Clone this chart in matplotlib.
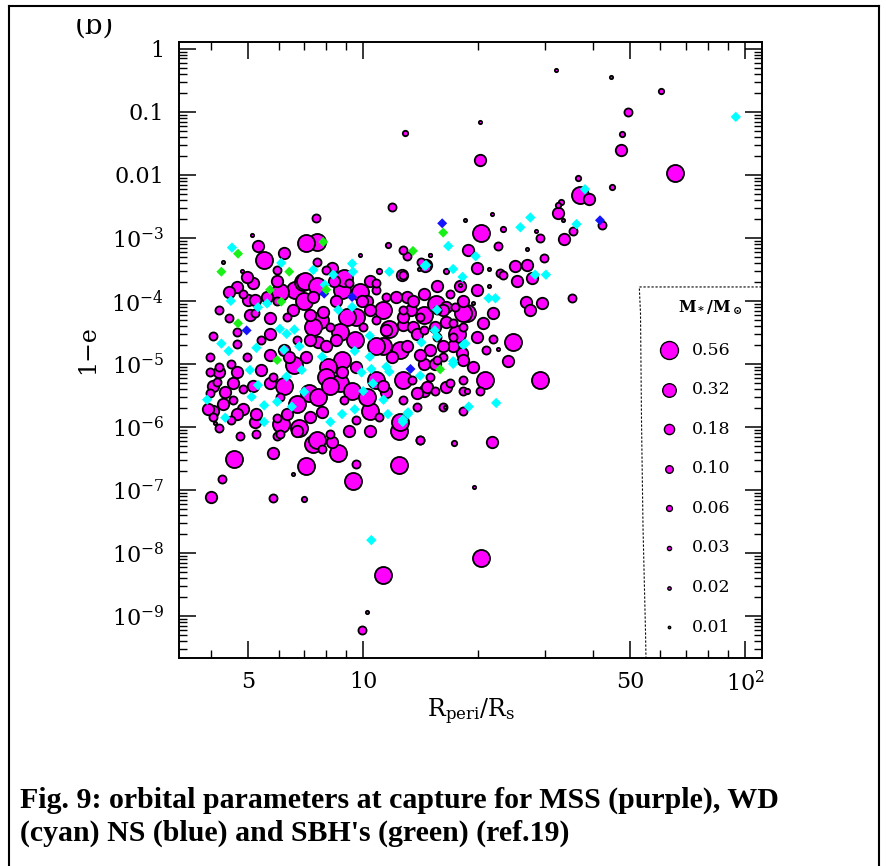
import numpy as np
import matplotlib
matplotlib.use('Agg')
import matplotlib.pyplot as plt
from matplotlib.lines import Line2D
from matplotlib.patches import Rectangle
from matplotlib.ticker import FixedLocator, FixedFormatter, NullFormatter, LogLocator

plt.rcParams['font.family'] = ['DejaVu Serif']
plt.rcParams['mathtext.fontset'] = 'dejavuserif'

# ---------------- data (R_peri/R_s, 1-e) ----------------
# MSS, grouped by stellar mass (M*/Msun)
mss_L_mass = 0.40
mss_L_r = [37.0, 65.5, 20.4, 29.0, 20.9, 24.7, 18.7, 4.6, 7.1, 7.4, 8.6, 9.4, 12.4, 11.3, 20.3, 6.1,
           6.8, 12.4, 7.55, 7.1, 5.5, 6.63, 6.97, 8.8, 9.6, 9.05, 7.7, 8.8, 8.1, 6.6, 7.2, 7.6,
           8.0, 8.7, 9.35, 10.4, 12.5, 7.55, 7.04, 7.55, 11.7, 14.4, 18.3, 17.6, 11.3, 12.7, 10.8, 15.5,
           7.4, 8.7, 9.5, 10.8, 7.0, 6.05, 8.9, 9.8, 11.3, 12.5, 10.2, 8.2, 6.2, 6.7]
mss_L_e = [4.8e-3, 1.08e-2, 1.18e-3, 5.5e-6, 5.5e-6, 2.24e-5, 6.3e-5, 3.1e-7, 2.4e-7, 5.4e-7, 3.8e-7,
           1.4e-7, 2.5e-7, 4.4e-9, 8.3e-9, 1.1e-6, 9.5e-7, 8.6e-7, 8.6e-4, 8.3e-4, 4.5e-4, 1.5e-4,
           2.0e-4, 1.5e-4, 5.6e-5, 5.6e-5, 5.0e-5, 1.15e-5, 9.0e-6, 9.5e-6, 3.4e-6, 3.0e-6, 6.3e-6,
           4.9e-6, 3.7e-6, 1.8e-6, 1.2e-6, 6.2e-7, 2.1e-4, 1.7e-4, 3.6e-5, 5.9e-5, 6.3e-5, 3.0e-5,
           1.9e-5, 5.5e-6, 5.5e-6, 9.0e-5,
           3.9e-5, 3.2e-5, 2.4e-5, 1.9e-5, 1.0e-4, 1.4e-4, 2.3e-4, 1.4e-4, 7.2e-5, 1.65e-5,
           3.0e-6, 4.4e-6, 4.4e-6, 2.3e-6]

mss_M_mass = 0.18
mss_M_r = [47.4, 39.1, 20.2, 32.4, 33.6, 18.8, 14.6, 19.9, 25.0, 26.8,
           25.3, 27.7, 19.9, 15.6, 26.7, 27.4, 29.4, 24.0, 21.9, 20.6,
           18.1, 14.4, 21.8, 4.0, 5.8, 8.27, 5.2, 5.3, 6.2, 8.3,
           12.6, 14.5, 4.66, 4.44, 5.0, 5.2, 5.6, 8.5, 10.2, 7.25,
           7.86, 6.55, 5.05, 5.7, 5.7, 6.2, 7.1, 7.6, 8.5, 11.5,
           8.8, 5.4, 4.56, 4.35, 5.7, 7.8, 4.85, 4.05, 7.4, 8.4,
           9.95, 10.4, 12.7, 13.3, 16.5, 18.3, 13.0, 11.9, 14.4, 14.7,
           16.5, 13.8, 11.5, 13.0, 12.7, 13.5, 15.0, 17.2, 16.5, 15.4,
           14.1, 3.93,
           5.7, 7.25, 6.4, 8.0, 9.6, 11.3, 5.15, 4.66, 4.2, 4.05,
           4.3, 4.66, 5.25, 6.3, 7.25, 9.2, 10.4, 6.7, 5.15, 4.95,
           5.95, 10.4, 12.2, 14.4, 17.9, 13.8, 16.2, 18.3, 13.5, 15.4,
           16.2, 19.9, 19.4]
mss_M_e = [2.47e-2, 4.1e-3, 1.7e-2, 2.5e-3, 9.5e-4, 6.3e-4, 3.7e-4, 3.3e-4, 3.6e-4, 3.7e-4,
           2.1e-4, 2.3e-4, 1.5e-4, 1.7e-4, 9.65e-5, 7.2e-5, 9.4e-5, 1.1e-5, 6.3e-5, 4.4e-5,
           1.5e-5, 3.7e-6, 5.7e-7, 7.8e-8, 3.8e-7, 5.7e-7, 1.2e-6, 7.4e-4, 5.8e-4, 3.3e-4,
           2.6e-4, 3.6e-4, 1.64e-4, 1.4e-4, 1.05e-4, 1.05e-4, 1.15e-4, 1.0e-4, 1.0e-4, 5.9e-5,
           6.6e-5, 7.2e-5, 5.9e-5, 5.3e-5, 1.4e-5, 1.67e-5, 1.3e-5, 2.2e-5, 2.4e-5, 3.4e-5,
           7.5e-6, 8.0e-6, 4.9e-6, 3.6e-6, 4.9e-6, 1.7e-6, 1.9e-6, 1.8e-6, 1.15e-4, 2.1e-4,
           1.0e-4, 7.2e-5, 4.1e-5, 7.2e-5, 8.0e-5, 1.0e-4, 1.9e-5, 1.3e-5, 1.0e-5, 4.3e-6,
           4.3e-6, 3.4e-6, 3.6e-6, 1.15e-4, 5.6e-5, 3.9e-5, 1.65e-5, 1.9e-5, 4.6e-5, 1.0e-5,
           1.4e-5, 1.9e-6,
           3.0e-5, 2.4e-5, 1.3e-5, 1.9e-5, 9.0e-6, 4.4e-6, 4.4e-6, 7.3e-6, 7.3e-6, 4.4e-6,
           2.3e-6, 1.6e-6, 1.6e-6, 1.6e-6, 1.45e-6, 8.6e-7, 8.6e-7, 8.6e-7, 1.9e-4, 2.4e-4,
           2.1e-4, 2.1e-4, 1.15e-4, 1.3e-4, 1.7e-4, 3.0e-5, 1.9e-5, 1.15e-5, 1.0e-4, 3.9e-5,
           7.2e-5, 2.7e-5, 9.0e-6]

mss_S_mass = 0.09
mss_S_r = [49.3, 42.2, 35.4, 29.0, 22.6, 29.7, 13.0, 22.8, 23.2, 12.7,
           16.9, 35.2, 18.3, 21.9, 17.4, 17.2, 16.2, 15.4, 18.3, 14.1,
           5.8, 4.26, 7.8, 9.6, 14.1, 5.95, 9.9, 11.9, 7.5, 7.55,
           5.95, 10.8, 5.2, 4.66, 4.05, 4.14, 3.97, 4.85, 5.95, 4.2,
           4.75, 18.3, 16.2, 14.4, 15.6, 15.6, 13.4, 4.5, 12.7, 14.2,
           4.2, 4.45, 3.97, 4.2, 4.5, 4.95, 3.97, 5.8, 6.05, 4.56,
           4.05, 5.25, 6.05, 8.2, 9.6, 11.0, 8.9, 12.7, 13.8, 15.0,
           15.6, 17.2, 12.7, 10.8, 10.0, 8.2, 6.7, 5.4, 4.66, 6.3,
           5.95, 4.85, 8.0, 9.2, 10.8, 11.5, 14.1, 18.3, 21.0, 16.9,
           20.2]
mss_S_e = [0.1, 1.6e-3, 1.3e-3, 9.8e-4, 7.4e-4, 4.8e-4, 5.1e-4, 2.8e-4, 2.6e-4, 2.6e-4,
           1.28e-4, 1.1e-4, 1.8e-6, 2.5e-5, 8.0e-5, 2.7e-5, 1.3e-5, 3.7e-6, 5.5e-6, 6.2e-7,
           7.4e-8, 1.5e-7, 4.5e-7, 2.6e-7, 6.3e-7, 7.1e-7, 6.0e-10, 3.1e-3, 2.1e-3, 4.2e-4,
           3.1e-4, 1.5e-4, 6.3e-5, 3.2e-5, 2.8e-5, 5.2e-6, 3.4e-6, 4.0e-6, 1.4e-6, 9.5e-7,
           7.2e-7, 3.7e-6, 2.1e-6, 3.4e-5, 2.7e-5, 7.2e-5, 5.5e-6, 1.3e-6, 6.4e-4, 4.2e-4,
           7.2e-5, 5.3e-5, 1.3e-5, 9.0e-6, 1.0e-5, 1.3e-5, 7.3e-6, 6.3e-6, 3.0e-6, 2.7e-6,
           1.45e-6, 7.8e-7, 7.8e-7, 7.8e-7, 1.3e-6, 1.45e-6, 2.7e-6, 2.7e-6, 2.1e-6, 6.3e-6,
           1.15e-5, 4.4e-5, 7.2e-5, 5.0e-5, 3.9e-5, 3.9e-5, 2.4e-5, 2.4e-5, 2.1e-5, 5.6e-5,
           1.0e-4, 1.3e-4, 3.1e-4, 1.9e-4, 1.9e-4, 1.15e-4, 5.6e-5, 3.9e-5, 1.65e-5, 4.9e-6,
           3.7e-6]

mss_T_mass = 0.04
mss_T_r = [60.1, 36.6, 44.9, 33.0, 12.9, 23.3, 7.0, 18.7, 17.3, 11.0, 16.5, 11.6, 47.5, 32.4]
mss_T_e = [0.21, 8.9e-3, 6.5e-3, 3.7e-3, 4.6e-2, 1.4e-3, 7.2e-8, 3.7e-6, 5.6e-7, 3.0e-4,
           3.0e-4, 7.7e-4, 4.5e-2, 3.3e-3]

mss_D_mass = 0.015
mss_D_r = [31.9, 44.5, 20.2, 33.4, 28.3, 21.8, 18.5, 26.8, 15.0, 14.0,
           21.4, 21.4, 17.9, 19.4, 22.6, 16.4, 6.56, 4.09, 19.5, 10.2,
           5.1, 4.3, 9.8, 15.0, 4.8]
mss_D_e = [0.46, 0.35, 0.069, 1.9e-3, 1.3e-3, 2.4e-3, 1.9e-3, 6.6e-4, 5.4e-4, 3.2e-4,
           3.2e-4, 1.7e-4, 1.8e-4, 9.2e-5, 1.75e-5, 2.1e-6, 1.8e-7, 1.15e-6, 1.1e-7, 1.17e-9,
           1.1e-3, 4.2e-4, 5.3e-4, 5.3e-4, 3.0e-4]

# White dwarfs
wd_r = [94.6, 38.1, 36.2, 27.4, 25.8, 16.7, 19.7, 14.6, 17.2, 18.2,
        28.2, 30.1, 21.3, 22.2, 18.9, 22.3, 18.5, 17.2, 14.1, 13.1,
        12.7, 10.5, 4.53, 6.1, 9.35, 7.4, 8.35, 9.4, 11.7, 14.5,
        4.5, 5.6, 5.3, 7.93, 9.35, 8.6, 6.05, 6.6, 6.3, 4.25,
        4.44, 5.25, 6.2, 6.8, 7.8, 9.5, 10.4, 10.4, 11.5, 11.7,
        10.5, 9.9, 6.9, 6.3, 5.05, 3.9, 5.3, 5.1, 5.5, 5.95,
        6.5, 7.0, 10.0, 10.6, 9.5, 8.8, 8.2, 11.3, 11.6, 12.7,
        13.1, 5.5, 4.35, 15.6, 15.4, 15.6, 14.2, 18.3, 17.2]
wd_e = [8.3e-2, 5.9e-3, 1.65e-3, 2.1e-3, 1.47e-3, 7.4e-4, 5.1e-4, 3.7e-4, 3.2e-4, 2.4e-4,
        2.6e-4, 2.6e-4, 1.1e-4, 1.1e-4, 2.1e-6, 2.4e-6, 2.1e-5, 1.1e-5, 6.5e-6, 1.6e-6,
        1.3e-6, 1.6e-8, 7.0e-4, 4.0e-4, 3.9e-4, 3.1e-4, 2.6e-4, 2.9e-4, 2.9e-4, 3.6e-4,
        1.0e-4, 9.1e-5, 7.9e-5, 1.8e-4, 8.0e-5, 7.2e-5, 3.6e-5, 3.5e-5, 3.0e-5, 2.1e-5,
        1.6e-5, 1.8e-5, 1.67e-5, 1.9e-5, 1.3e-5, 1.6e-5, 1.3e-5, 2.8e-5, 9.0e-6, 7.5e-6,
        8.3e-6, 7.3e-6, 8.0e-6, 6.3e-6, 8.0e-6, 2.7e-6, 4.6e-6, 3.0e-6, 2.2e-6, 2.5e-6,
        2.1e-6, 3.6e-6, 3.7e-6, 4.9e-6, 1.9e-6, 1.6e-6, 1.2e-6, 2.7e-6, 1.6e-6, 1.2e-6,
        1.7e-6, 1.2e-6, 1.4e-6, 7.2e-5, 3.4e-5, 2.7e-5, 2.2e-5, 2.0e-5, 1.0e-5]

# Neutron stars
ns_r = [41.7, 16.1, 13.3, 7.9, 9.35, 4.95]
ns_e = [1.9e-3, 1.7e-3, 8.3e-6, 1.3e-4, 1.15e-4, 3.4e-5]

# Stellar black holes
sbh_r = [16.2, 13.5, 15.9, 7.86, 4.7, 4.25, 6.4, 8.0, 5.7, 6.1, 4.7, 5.95]
sbh_e = [1.21e-3, 6.2e-4, 8.2e-6, 8.6e-4, 5.6e-4, 2.9e-4, 2.9e-4, 1.5e-4, 1.5e-4, 9.7e-5, 4.4e-5, 1.15e-5]

legend_masses = [0.56, 0.32, 0.18, 0.10, 0.06, 0.03, 0.02, 0.01]
legend_labels = ['0.56', '0.32', '0.18', '0.10', '0.06', '0.03', '0.02', '0.01']

x_major = [5, 10, 50, 100]
x_major_labels = ['5', '10', '50', r'$10^2$']
x_minor = [4, 6, 7, 8, 9, 20, 30, 40, 60, 70, 80, 90]
y_major = [1, 0.1, 0.01, 1e-3, 1e-4, 1e-5, 1e-6, 1e-7, 1e-8, 1e-9]
y_major_labels = ['1', '0.1', '0.01', r'$10^{-3}$', r'$10^{-4}$', r'$10^{-5}$',
                  r'$10^{-6}$', r'$10^{-7}$', r'$10^{-8}$', r'$10^{-9}$']

# ---------------- figure ----------------
W, H = 886, 866
fig = plt.figure(figsize=(W / 100, H / 100), dpi=100)
ax = fig.add_axes([0.2024, 0.2398, 0.6573, 0.7120])
ax.set_xscale('log')
ax.set_yscale('log')
ax.set_xlim(3.298, 110.6)
ax.set_ylim(2.13e-10, 1.291)

MAG = '#ff00ff'
CYAN = '#00ffff'
BLUE = '#1414ff'
GREEN = '#18f018'


def msize(m, k=27.0):
    d_px = k * np.sqrt(m)
    return (d_px * 0.72) ** 2


for r, e, m in [(mss_L_r, mss_L_e, mss_L_mass), (mss_M_r, mss_M_e, mss_M_mass),
                (mss_S_r, mss_S_e, mss_S_mass), (mss_T_r, mss_T_e, mss_T_mass),
                (mss_D_r, mss_D_e, mss_D_mass)]:
    ax.scatter(r, e, s=msize(m), facecolor=MAG, edgecolor='black', linewidths=1.3, zorder=2)

ax.scatter(wd_r, wd_e, marker='D', s=28, facecolor=CYAN, edgecolor='none', zorder=3)
ax.scatter(ns_r, ns_e, marker='D', s=26, facecolor=BLUE, edgecolor='none', zorder=3)
ax.scatter(sbh_r, sbh_e, marker='D', s=26, facecolor=GREEN, edgecolor='none', zorder=3)

# ticks
ax.xaxis.set_major_locator(FixedLocator(x_major))
ax.xaxis.set_major_formatter(FixedFormatter(x_major_labels))
ax.xaxis.set_minor_locator(FixedLocator(x_minor))
ax.xaxis.set_minor_formatter(NullFormatter())
ax.yaxis.set_major_locator(FixedLocator(y_major))
ax.yaxis.set_major_formatter(FixedFormatter(y_major_labels))
ax.yaxis.set_minor_locator(LogLocator(base=10, subs=np.arange(2, 10), numticks=100))
ax.yaxis.set_minor_formatter(NullFormatter())
ax.tick_params(which='both', direction='in', top=True, right=True, colors='black')
ax.tick_params(which='major', length=12, width=1.1, labelsize=16)
ax.tick_params(which='minor', length=6, width=1.0)
ax.tick_params(axis='x', which='major', pad=9)
ax.tick_params(axis='y', which='major', pad=11)
for sp in ax.spines.values():
    sp.set_linewidth(1.4)

# legend (inside axes)
lx_m, lx_t = 0.8408, 0.8803
ly0, lstep = 0.500, 0.0642
for i, (m, lab) in enumerate(zip(legend_masses, legend_labels)):
    yy = ly0 - i * lstep
    ax.scatter([lx_m], [yy], s=msize(m, 24.0), facecolor=MAG, edgecolor='black', linewidths=1.0,
               transform=ax.transAxes, clip_on=False, zorder=5)
    ax.text(lx_t, yy, lab, transform=ax.transAxes, ha='left', va='center', fontsize=12.5, zorder=5)
ax.text(0.9111, 0.5681, r'$\mathbf{M_*/M_\odot}$', transform=ax.transAxes, ha='center',
        va='center', fontsize=11.5, zorder=5)
box_x = [1.0, 0.7898, 0.7919, 0.7936, 0.7962, 0.8005, 0.8013]
box_y = [0.6023, 0.6023, 0.5600, 0.3865, 0.2129, 0.0427, 0.0]
ax.add_line(Line2D(box_x, box_y, transform=ax.transAxes, color='black', lw=0.8,
                   linestyle=(0, (2.0, 1.6)), zorder=4, clip_on=False))

# axis labels
fig.text(470.5 / W, 1 - 712 / H, r'$\mathrm{R_{peri}/R_s}$', ha='center', va='center', fontsize=17)
fig.text(88 / W, 1 - 350 / H, '1\u2212e', rotation=90, ha='center', va='center', fontsize=17)

# panel label (top partially cropped)
fig.text(94 / W, 1 - 40 / H, '(b)', ha='center', va='bottom', fontsize=20, zorder=1)
fig.patches.append(Rectangle((0.02, 1 - 19 / H), 0.3, 19 / H, transform=fig.transFigure,
                             facecolor='white', edgecolor='none', zorder=2))

# outer frame
fx0, fx1, fy = 9 / W, 879 / W, 1 - 5.7 / H
for xs, ys in [([fx0, fx0], [0, fy]), ([fx0, fx1], [fy, fy]), ([fx1, fx1], [fy, 0])]:
    fig.add_artist(Line2D(xs, ys, transform=fig.transFigure, color='black', lw=1.5, zorder=3))

# caption
cap_kw = dict(fontfamily='Liberation Serif', fontweight='bold', fontsize=21.5, ha='left', va='baseline')
fig.text(20 / W, 1 - 808 / H, 'Fig. 9: orbital parameters at capture for MSS (purple), WD', **cap_kw)
fig.text(20 / W, 1 - 841 / H, "(cyan) NS (blue) and SBH's (green) (ref.19)", **cap_kw)

fig.savefig('out.png', dpi=100, facecolor='white')
